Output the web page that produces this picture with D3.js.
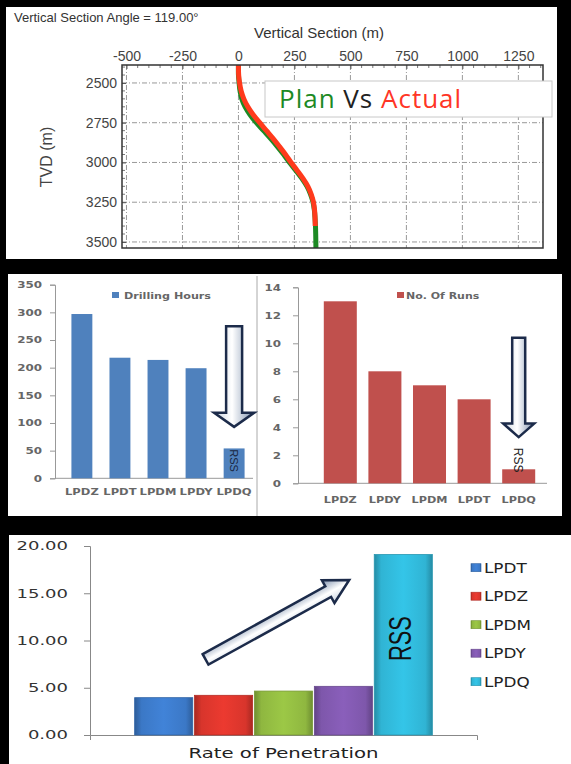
<!DOCTYPE html>
<html>
<head>
<meta charset="utf-8">
<script src="https://cdn.jsdelivr.net/npm/d3@7"></script>
<style>
  body { margin: 0; background: #000; }
  svg { display: block; }
</style>
</head>
<body>
<svg id="chart" width="571" height="764"></svg>
<script>
// --- data ---
var vsTicks = [-500, -250, 0, 250, 500, 750, 1000, 1250];
var tvdTicks = [2500, 2750, 3000, 3250, 3500];
var actualTvd = [2387, 2450, 2500, 2550, 2600, 2650, 2700, 2750, 2800, 2850, 2900, 2950, 3000, 3050, 3100, 3150, 3200, 3250, 3300, 3350, 3400];
var actualVs  = [0, 1, 5, 12, 24, 42, 66, 95, 125, 155, 183, 210, 235, 262, 288, 310, 325, 335, 340, 342, 343];
var planTvd = [2387, 2450, 2500, 2550, 2600, 2650, 2700, 2750, 2800, 2850, 2900, 2950, 3000, 3050, 3100, 3150, 3200, 3250, 3300, 3350, 3400, 3450, 3538];
var planVs  = [0, 0, 3, 7, 15, 30, 52, 80, 112, 144, 174, 202, 228, 256, 283, 306, 322, 333, 339, 342, 344, 345, 346];

var hoursCats = ['LPDZ', 'LPDT', 'LPDM', 'LPDY', 'LPDQ'];
var hoursVals = [297, 218, 214, 199, 54];
var hoursTicks = [0, 50, 100, 150, 200, 250, 300, 350];

var runsCats = ['LPDZ', 'LPDY', 'LPDM', 'LPDT', 'LPDQ'];
var runsVals = [13, 8, 7, 6, 1];
var runsTicks = [0, 2, 4, 6, 8, 10, 12, 14];

var ropSeries = ['LPDT', 'LPDZ', 'LPDM', 'LPDY', 'LPDQ'];
var ropVals = [3.95, 4.2, 4.65, 5.15, 19.1];
var ropColors = ['#3b78c6', '#d8352c', '#8fb740', '#7e57ab', '#30b4d4'];
var ropTicks = [0, 5, 10, 15, 20];

var svg = d3.select('#chart');
var defs = svg.append('defs');

function stretch(sel, k) {
  sel.each(function(){
    var w = this.getComputedTextLength();
    d3.select(this).attr('textLength', w * k).attr('lengthAdjust', 'spacingAndGlyphs');
  });
}

function arrow(g, x0, y0, x1, y1, sw, hw, hl, strokeW) {
  var dx = x1 - x0, dy = y1 - y0;
  var len = Math.sqrt(dx*dx + dy*dy);
  var ang = Math.atan2(dy, dx) * 180 / Math.PI;
  var pts = [[0, -sw], [len - hl, -sw], [len - hl, -hw], [len, 0], [len - hl, hw], [len - hl, sw], [0, sw]];
  g.append('polygon')
    .attr('points', pts.map(function(p){ return p.join(','); }).join(' '))
    .attr('transform', 'translate(' + x0 + ',' + y0 + ') rotate(' + ang + ')')
    .attr('fill', 'url(#arrowGrad)')
    .attr('stroke', '#1c2b4a')
    .attr('stroke-width', strokeW)
    .attr('stroke-linejoin', 'miter');
}

var ag = defs.append('linearGradient').attr('id', 'arrowGrad')
  .attr('x1', 0).attr('y1', 0).attr('x2', 0).attr('y2', 1);
ag.append('stop').attr('offset', '0%').attr('stop-color', '#7d90ad');
ag.append('stop').attr('offset', '55%').attr('stop-color', '#ffffff');
ag.append('stop').attr('offset', '100%').attr('stop-color', '#c9d3e0');

// panel backgrounds
svg.append('rect').attr('x', 6).attr('y', 7).attr('width', 551).attr('height', 252).attr('fill', '#fff');
svg.append('rect').attr('x', 8).attr('y', 274).attr('width', 554).attr('height', 242).attr('fill', '#fff');
svg.append('rect').attr('x', 9).attr('y', 535).attr('width', 562).attr('height', 229).attr('fill', '#fff');

// ================= Panel 1: vertical section =================
var p1 = svg.append('g').attr('font-family', 'Liberation Sans, Arial, sans-serif');
var x1 = d3.scaleLinear().domain([-520, 1360]).range([122, 543]);
var y1 = d3.scaleLinear().domain([2387, 3538]).range([65, 248]);

p1.append('text').attr('x', 14).attr('y', 22).attr('font-size', 13).attr('fill', '#333')
  .text('Vertical Section Angle = 119.00°');
p1.append('text').attr('x', 319).attr('y', 38).attr('font-size', 15).attr('fill', '#333')
  .attr('text-anchor', 'middle').text('Vertical Section (m)');
p1.append('text').attr('transform', 'translate(52,157) rotate(-90)').attr('font-size', 16)
  .attr('fill', '#444').attr('text-anchor', 'middle').text('TVD (m)');

var grid = p1.append('g').attr('stroke', '#999').attr('stroke-width', 1).attr('stroke-dasharray', '5,2,1,2');
grid.selectAll('line.v').data(vsTicks).enter().append('line')
  .attr('x1', function(d){ return x1(d); }).attr('x2', function(d){ return x1(d); })
  .attr('y1', y1.range()[0]).attr('y2', y1.range()[1]);
grid.selectAll('line.h').data(tvdTicks).enter().append('line')
  .attr('y1', function(d){ return y1(d); }).attr('y2', function(d){ return y1(d); })
  .attr('x1', x1.range()[0]).attr('x2', x1.range()[1]);

// minor ticks along frame
var minorY = d3.range(2400, 3538, 50).filter(function(d){ return d % 250 != 0; });
var minorX = d3.range(-500, 1360, 50).filter(function(d){ return d % 250 != 0; });
var mt = p1.append('g').attr('stroke', '#777').attr('stroke-width', 1);
mt.selectAll('line.my').data(minorY).enter().append('line')
  .attr('x1', x1.range()[0]).attr('x2', x1.range()[0] + 3)
  .attr('y1', function(d){ return y1(d); }).attr('y2', function(d){ return y1(d); });
mt.selectAll('line.mx').data(minorX).enter().append('line')
  .attr('y1', y1.range()[0]).attr('y2', y1.range()[0] + 3)
  .attr('x1', function(d){ return x1(d); }).attr('x2', function(d){ return x1(d); });

var plain = function(d){ return String(d); };
var topAxis = p1.append('g').attr('transform', 'translate(0,' + y1.range()[0] + ')')
  .call(d3.axisTop(x1).tickValues(vsTicks).tickFormat(plain).tickSize(-4).tickPadding(4));
var leftAxis = p1.append('g').attr('transform', 'translate(' + x1.range()[0] + ',0)')
  .call(d3.axisLeft(y1).tickValues(tvdTicks).tickFormat(plain).tickSize(-4).tickPadding(5));
[topAxis, leftAxis].forEach(function(a){
  a.select('.domain').remove();
  a.selectAll('text').attr('font-size', 14).attr('fill', '#444').attr('font-family', 'Liberation Sans, Arial, sans-serif');
  a.selectAll('line').attr('stroke', '#555');
});

defs.append('clipPath').attr('id', 'clip1').append('rect')
  .attr('x', 122).attr('y', 65).attr('width', 421).attr('height', 183);

var line1 = d3.line().x(function(d){ return x1(d[0]); }).y(function(d){ return y1(d[1]); })
  .curve(d3.curveCatmullRom);
var plot1 = p1.append('g').attr('clip-path', 'url(#clip1)');
plot1.append('path').datum(d3.zip(planVs, planTvd)).attr('d', line1)
  .attr('fill', 'none').attr('stroke', '#1d8a24').attr('stroke-width', 5);
plot1.append('path').datum(d3.zip(actualVs, actualTvd)).attr('d', line1)
  .attr('fill', 'none').attr('stroke', '#ff3a1c').attr('stroke-width', 5);

p1.append('rect').attr('x', 122).attr('y', 65).attr('width', 421).attr('height', 183)
  .attr('fill', 'none').attr('stroke', '#333').attr('stroke-width', 1.5);

// legend box
p1.append('rect').attr('x', 265).attr('y', 81).attr('width', 287).attr('height', 36)
  .attr('fill', '#fff').attr('stroke', '#c8c8c8');
var lg = p1.append('text').attr('x', 279).attr('y', 108).attr('font-size', 26)
  .attr('font-family', 'Open Sans, sans-serif').attr('letter-spacing', 1);
lg.append('tspan').attr('fill', '#1d8a24').text('Plan ');
lg.append('tspan').attr('fill', '#222').text('Vs ');
lg.append('tspan').attr('fill', '#ff3526').text('Actual');

// ================= Panel 2: drilling hours / runs =================
var p2 = svg.append('g').attr('font-family', 'DejaVu Sans, sans-serif').attr('font-weight', 'bold');
p2.append('line').attr('x1', 257).attr('x2', 257).attr('y1', 276).attr('y2', 516)
  .attr('stroke', '#aaa');

function barChart(g, cats, vals, ticks, xr, pi, po, yr, axisX, axisEnd, tickPad, color) {
  var x = d3.scaleBand().domain(cats).range(xr).paddingInner(pi).paddingOuter(po);
  var y = d3.scaleLinear().domain([0, d3.max(ticks)]).range(yr);
  var ya = g.append('g').attr('transform', 'translate(' + axisX + ',0)')
    .call(d3.axisLeft(y).tickValues(ticks).tickSize(5).tickPadding(tickPad));
  ya.select('.domain').attr('stroke', '#999');
  ya.selectAll('line').attr('stroke', '#999');
  ya.selectAll('text').attr('font-size', 9).attr('fill', '#666')
    .attr('font-family', 'DejaVu Sans, sans-serif').attr('font-weight', 'bold').call(stretch, 1.32);
  g.append('line').attr('x1', axisX).attr('x2', axisEnd).attr('y1', y(0)).attr('y2', y(0))
    .attr('stroke', '#999');
  g.selectAll('rect.bar').data(vals).enter().append('rect')
    .attr('x', function(d, i){ return x(cats[i]); })
    .attr('y', function(d){ return y(d); })
    .attr('width', x.bandwidth())
    .attr('height', function(d){ return y(0) - y(d); })
    .attr('fill', color);
  return {x: x, y: y};
}

// left: drilling hours
var h = barChart(p2, hoursCats, hoursVals, hoursTicks, [60, 256], 0.45, 0.30, [478.3, 284.7], 55, 253, 8, '#4f81bd');
p2.append('g').selectAll('text').data(hoursCats).enter().append('text')
  .attr('x', function(d){ return h.x(d) + h.x.bandwidth() / 2; })
  .attr('y', 495).attr('text-anchor', 'middle').attr('font-size', 9).attr('fill', '#666')
  .text(function(d){ return d; }).call(stretch, 1.28);
p2.append('rect').attr('x', 112).attr('y', 292).attr('width', 7).attr('height', 6).attr('fill', '#4f81bd');
p2.append('text').attr('x', 124).attr('y', 299).attr('font-size', 9).attr('fill', '#666')
  .text('Drilling Hours').call(stretch, 1.24);

var hq = h.x('LPDQ') + h.x.bandwidth() / 2;
arrow(p2.append('g'), hq, h.y(275), hq, h.y(93), 8, 20, 14, 2.5);
p2.append('text').attr('transform', 'translate(' + (hq - 4) + ',' + h.y(32) + ') rotate(90)')
  .attr('text-anchor', 'middle').attr('font-size', 11).attr('font-weight', 'normal')
  .attr('font-family', 'Liberation Sans, Arial, sans-serif').attr('fill', '#1a2640').text('RSS');

// right: no. of runs
var r = barChart(p2, runsCats, runsVals, runsTicks, [318, 541], 0.26, 0.13, [483.3, 287.3], 298, 547, 12, '#c0504d');
p2.append('g').selectAll('text').data(runsCats).enter().append('text')
  .attr('x', function(d){ return r.x(d) + r.x.bandwidth() / 2; })
  .attr('y', 503).attr('text-anchor', 'middle').attr('font-size', 9).attr('fill', '#666')
  .text(function(d){ return d; }).call(stretch, 1.25);
p2.append('rect').attr('x', 397).attr('y', 292).attr('width', 7).attr('height', 6).attr('fill', '#c0504d');
p2.append('text').attr('x', 406).attr('y', 299).attr('font-size', 9).attr('fill', '#666')
  .text('No. Of Runs').call(stretch, 1.22);

var rq = r.x('LPDQ') + r.x.bandwidth() / 2;
arrow(p2.append('g'), rq, r.y(10.4), rq, r.y(3.3), 6.5, 15.5, 13.5, 2.5);
p2.append('text').attr('transform', 'translate(' + (rq - 5) + ',' + r.y(1.65) + ') rotate(90)')
  .attr('text-anchor', 'middle').attr('font-size', 12).attr('font-weight', 'normal')
  .attr('font-family', 'Liberation Sans, Arial, sans-serif').attr('fill', '#222').text('RSS');

// ================= Panel 3: rate of penetration =================
var p3 = svg.append('g').attr('font-family', 'DejaVu Sans, sans-serif');
var x3 = d3.scaleBand().domain(['Rate of Penetration']).range([90, 477]).paddingInner(0).paddingOuter(0.15);
var x3s = d3.scaleBand().domain(ropSeries).range([0, x3.bandwidth()]).paddingInner(0.03);
var y3 = d3.scaleLinear().domain([0, 20]).range([735, 546]);

ropColors.forEach(function(c, i){
  var gr = defs.append('linearGradient').attr('id', 'rop' + i)
    .attr('x1', 0).attr('y1', 0).attr('x2', 1).attr('y2', 0);
  var dark = d3.color(c).darker(0.7), light = d3.color(c).brighter(0.25);
  gr.append('stop').attr('offset', '0%').attr('stop-color', dark);
  gr.append('stop').attr('offset', '12%').attr('stop-color', c);
  gr.append('stop').attr('offset', '50%').attr('stop-color', light);
  gr.append('stop').attr('offset', '88%').attr('stop-color', c);
  gr.append('stop').attr('offset', '100%').attr('stop-color', dark);
});

var ya3 = p3.append('g').attr('transform', 'translate(90,0)')
  .call(d3.axisLeft(y3).tickValues(ropTicks).tickSize(6).tickPadding(16)
    .tickFormat(function(d){ return d3.format('.2f')(d); }));
ya3.select('.domain').attr('stroke', '#888');
ya3.selectAll('line').attr('stroke', '#888');
ya3.selectAll('text').attr('font-size', 12).attr('fill', '#333')
  .attr('font-family', 'DejaVu Sans, sans-serif').call(stretch, 1.5);

var xa3 = p3.append('g').attr('transform', 'translate(0,' + y3(0) + ')')
  .call(d3.axisBottom(x3).tickSize(0).tickSizeOuter(5).tickPadding(12));
xa3.select('.domain').attr('stroke', '#888');
xa3.selectAll('text').attr('font-size', 14).attr('fill', '#222')
  .attr('font-family', 'DejaVu Sans, sans-serif').attr('dy', '0.8em')
  .attr('textLength', 190).attr('lengthAdjust', 'spacingAndGlyphs');

var g0 = x3('Rate of Penetration');
p3.selectAll('rect.rop').data(ropVals).enter().append('rect')
  .attr('x', function(d, i){ return g0 + x3s(ropSeries[i]); })
  .attr('y', function(d){ return y3(d); })
  .attr('width', x3s.bandwidth())
  .attr('height', function(d){ return y3(0) - y3(d); })
  .attr('fill', function(d, i){ return 'url(#rop' + i + ')'; })
  .attr('stroke', function(d, i){ return d3.color(ropColors[i]).darker(0.5); })
  .attr('stroke-width', 0.8);

var qx = g0 + x3s('LPDQ') + x3s.bandwidth() / 2;
p3.append('text').attr('transform', 'translate(' + (qx + 8) + ',' + y3(10.2) + ') rotate(-90)')
  .attr('text-anchor', 'middle').attr('font-size', 31).attr('fill', '#111')
  .attr('font-family', 'Liberation Sans, Arial, sans-serif')
  .attr('textLength', 45).attr('lengthAdjust', 'spacingAndGlyphs').text('RSS');

// diagonal arrow from LPDZ up toward LPDY
var ax0 = g0 + x3s('LPDZ') + 11, ax1 = g0 + x3s('LPDY') + x3s.bandwidth() * 0.6;
arrow(p3.append('g'), ax0, y3(8), ax1, y3(16.4), 6, 13, 24, 2.5);

var lg3 = p3.append('g').selectAll('g').data(ropSeries).enter().append('g')
  .attr('transform', function(d, i){ return 'translate(471,' + (567.7 + i * 28.5) + ')'; });
lg3.append('rect').attr('x', 0).attr('y', -4).attr('width', 10).attr('height', 8)
  .attr('fill', function(d, i){ return 'url(#rop' + i + ')'; })
  .attr('stroke', function(d, i){ return d3.color(ropColors[i]).darker(0.6); }).attr('stroke-width', 0.6);
lg3.append('text').attr('x', 13).attr('y', 5).attr('font-size', 14).attr('fill', '#222')
  .text(function(d){ return d; }).call(stretch, 1.2);
</script>
</body>
</html>
